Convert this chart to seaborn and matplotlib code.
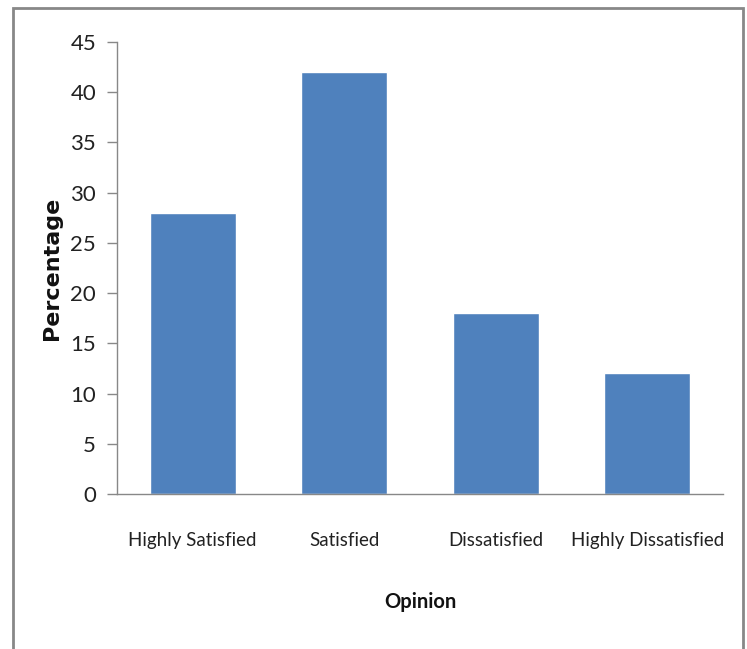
import matplotlib
matplotlib.use("Agg")
import matplotlib.pyplot as plt
import seaborn as sns
import pandas as pd
from matplotlib.patches import Rectangle

opinions = ["Highly Satisfied", "Satisfied", "Dissatisfied", "Highly Dissatisfied"]
percentages = [28, 42, 18, 12]
y_ticks = [0, 5, 10, 15, 20, 25, 30, 35, 40, 45]

sns.set_theme(style="white")
plt.rcParams["font.family"] = ["Lato", "DejaVu Sans"]

df = pd.DataFrame({"Opinion": opinions, "Percentage": percentages})

fig = plt.figure(figsize=(7.47, 6.49), dpi=100)
ax = fig.add_axes([0.1566, 0.2388, 0.8113, 0.6965])

sns.barplot(data=df, x="Opinion", y="Percentage", color="#4F81BD",
            saturation=1, width=0.57, ax=ax)

ax.set_xlim(-0.5, 3.5)
ax.set_ylim(0, 45)
ax.set_yticks(y_ticks)
ax.tick_params(axis="y", left=True, direction="out", length=7, width=1, color="#888888",
               labelsize=16, labelcolor="#222222", pad=8)
ax.tick_params(axis="x", bottom=False, length=0, labelsize=13.5, labelcolor="#222222", pad=27)

for side in ["top", "right"]:
    ax.spines[side].set_visible(False)
for side in ["left", "bottom"]:
    ax.spines[side].set_color("#888888")
    ax.spines[side].set_linewidth(1)

ax.set_xlabel("Opinion", fontsize=14.5, fontweight="bold", color="#111111", va="center")
ax.xaxis.set_label_coords(0.5, -0.239)
ax.set_ylabel("Percentage", fontsize=16, fontweight="bold", color="#111111", va="center",
              family="DejaVu Sans")
ax.yaxis.set_label_coords(-0.107, 0.5)

# outer frame around the chart
fig.patches.append(Rectangle((13 / 747, -0.05), (743 - 13) / 747, 1.05 - 8 / 649,
                             transform=fig.transFigure, fill=False,
                             edgecolor="#888888", linewidth=2))

fig.savefig("out.png", dpi=100)
